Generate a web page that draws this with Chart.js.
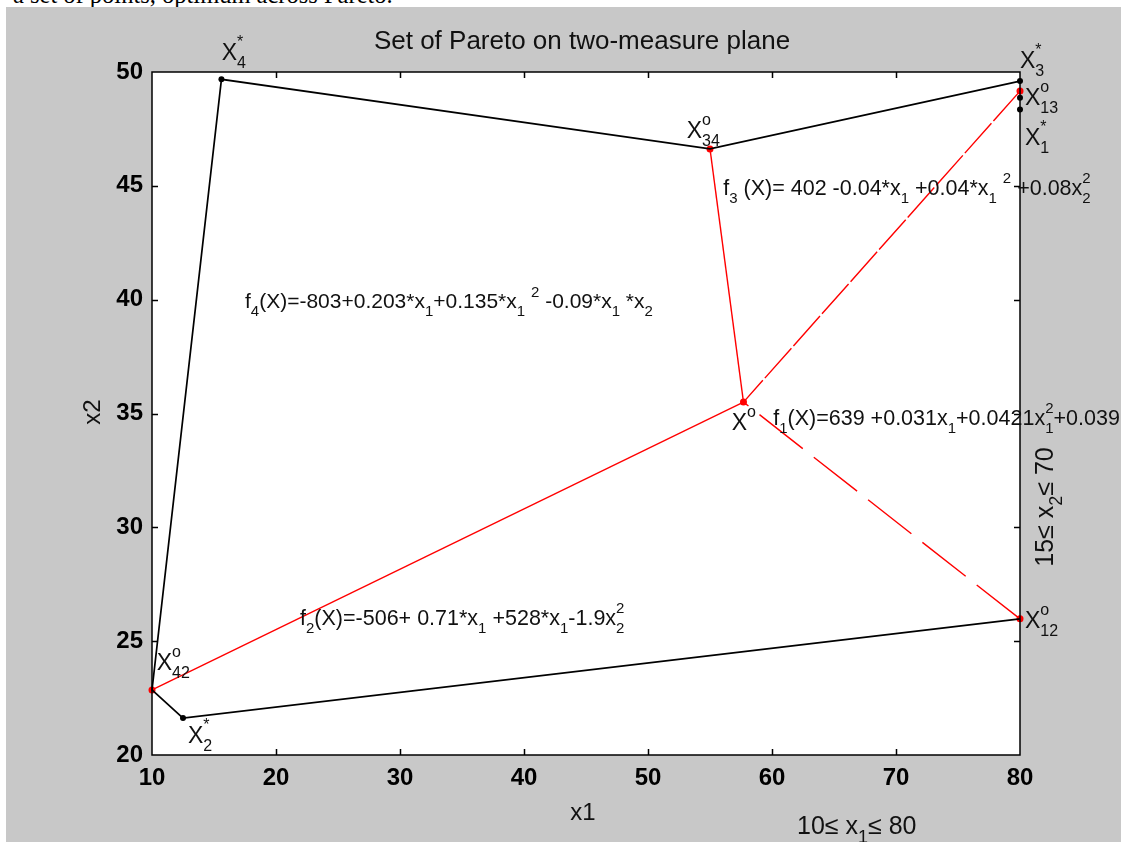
<!DOCTYPE html>
<html>
<head>
<meta charset="utf-8">
<script src="https://cdn.jsdelivr.net/npm/chart.js@4.4.0/dist/chart.umd.min.js"></script>
<style>
  body { margin: 0; background: #fff; width: 1121px; height: 842px; overflow: hidden; position: relative; }
  #cap { position: absolute; left: 13px; top: -17px; font: 24.5px "Liberation Serif", serif; line-height: 24px; white-space: nowrap; }
  #wrap { position: absolute; left: 6px; top: 7px; width: 1115px; height: 835px; background: #c8c8c8; }
</style>
</head>
<body>
<div id="cap">a set of points, optimum across Pareto.</div>
<div id="wrap"><canvas id="c" width="1115" height="835"></canvas></div>
<script>
// black boundary: X12o -> X2* -> X42o -> X4* -> X34o -> X3*
const blackX1 = [80, 12.5, 10, 15.6, 55.0, 80];
const blackX2 = [25.98, 21.62, 22.86, 49.68, 46.62, 49.6];

// black markers: X2*, X4*, X3*, (edge), X1*
const dotX1 = [12.5, 15.6, 80, 80, 80];
const dotX2 = [21.62, 49.68, 49.6, 48.87, 48.35];

// red compromise lines, all from Xo
const xoX1 = 57.7, xoX2 = 35.5;
const redEndX1 = [55.0, 80, 10, 80];        // X34o, X13o, X42o, X12o
const redEndX2 = [46.62, 49.16, 22.86, 25.98];

const x1Ticks = [10, 20, 30, 40, 50, 60, 70, 80];
const x2Ticks = [20, 25, 30, 35, 40, 45, 50];

const pts = (xs, ys) => xs.map((x, i) => ({ x: x, y: ys[i] }));
const seg = (i) => [{ x: redEndX1[i], y: redEndX2[i] }, { x: xoX1, y: xoX2 }];

const RED = "#ff0000";
const FONT = "'Liberation Sans', Arial, sans-serif";

// text labels placed in data coordinates (x1, x2); tex-like _ and ^ for scripts
const notes = [
	{ x: 15.62, y: 50.53, s: "X_4^*", size: 23 },
	{ x: 53.12, y: 47.10, s: "X^o_{34}", size: 23 },
	{ x: 80.0, y: 50.18, s: "X_3^*", size: 23 },
	{ x: 80.4, y: 48.55, s: "X^o_{13}", size: 23 },
	{ x: 80.4, y: 46.79, s: "X_1^*", size: 23 },
	{ x: 56.75, y: 34.28, s: "X^o", size: 23 },
	{ x: 10.38, y: 23.74, s: "X^o_{42}", size: 23 },
	{ x: 12.9, y: 20.53, s: "X_2^*", size: 23 },
	{ x: 80.4, y: 25.58, s: "X^o_{12}", size: 23 },
	{ x: 56.07, y: 44.6, s: "f_3 (X)= 402 -0.04*x_1 +0.04*x_1 ^2 +0.08x_2^2", size: 21.5 },
	{ x: 17.5, y: 39.62, s: "f_4(X)=-803+0.203*x_1+0.135*x_1 ^2 -0.09*x_1 *x_2", size: 21 },
	{ x: 60.1, y: 34.5, s: "f_1(X)=639 +0.031x_1+0.0421x_1^2+0.039", size: 21.5 },
	{ x: 21.94, y: 25.71, s: "f_2(X)=-506+ 0.71*x_1 +528*x_1-1.9x_2^2", size: 21.5 },
];

function parseTex(s) {
	const out = [];
	let i = 0;
	const grab = () => {
		if (s[i] === "{") { const j = s.indexOf("}", i); const g = s.slice(i + 1, j); i = j + 1; return g; }
		return s[i++];
	};
	while (i < s.length) {
		const c = s[i];
		if (c === "_" || c === "^") {
			i++;
			const key = c === "_" ? "sub" : "sup";
			const g = grab();
			let last = out[out.length - 1];
			if (!last || last.type !== "script" || last[key] !== undefined) { last = { type: "script" }; out.push(last); }
			last[key] = g;
		} else {
			const last = out[out.length - 1];
			if (last && last.type === "text") last.t += c; else out.push({ type: "text", t: c });
			i++;
		}
	}
	return out;
}

function richWidth(ctx, s, size) {
	const small = Math.round(size * 0.7);
	let w = 0;
	for (const p of parseTex(s)) {
		if (p.type === "text") { ctx.font = size + "px " + FONT; w += ctx.measureText(p.t).width; }
		else {
			ctx.font = small + "px " + FONT;
			w += Math.max(p.sub ? ctx.measureText(p.sub).width : 0, p.sup ? ctx.measureText(p.sup).width : 0);
		}
	}
	return w;
}

function drawRich(ctx, x, y, s, size) {
	const small = Math.round(size * 0.7);
	ctx.textAlign = "left";
	ctx.textBaseline = "alphabetic";
	for (const p of parseTex(s)) {
		if (p.type === "text") {
			ctx.font = size + "px " + FONT;
			ctx.fillText(p.t, x, y);
			x += ctx.measureText(p.t).width;
		} else {
			ctx.font = small + "px " + FONT;
			let w = 0;
			if (p.sub) { ctx.fillText(p.sub, x, y + size * 0.36); w = ctx.measureText(p.sub).width; }
			if (p.sup) { ctx.fillText(p.sup, x, y - size * 0.56); w = Math.max(w, ctx.measureText(p.sup).width); }
			x += w;
		}
	}
}

const matlabFrame = {
	id: "matlabFrame",
	beforeDraw(chart) {
		const { ctx, chartArea: a } = chart;
		ctx.save();
		ctx.fillStyle = "#fff";
		ctx.fillRect(a.left, a.top, a.right - a.left, a.bottom - a.top);
		ctx.restore();
	},
	afterDraw(chart) {
		const { ctx, chartArea: a } = chart;
		const xs = chart.scales.x, ys = chart.scales.y;
		ctx.save();
		ctx.strokeStyle = "#000";
		ctx.lineWidth = 1.5;
		ctx.strokeRect(a.left, a.top, a.right - a.left, a.bottom - a.top);
		// inward ticks on all four sides
		ctx.beginPath();
		const t = 6;
		x1Ticks.slice(1, -1).forEach((v) => {
			const px = Math.round(xs.getPixelForValue(v)) + 0.5;
			ctx.moveTo(px, a.bottom); ctx.lineTo(px, a.bottom - t);
			ctx.moveTo(px, a.top); ctx.lineTo(px, a.top + t);
		});
		x2Ticks.slice(1, -1).forEach((v) => {
			const py = Math.round(ys.getPixelForValue(v)) + 0.5;
			ctx.moveTo(a.left, py); ctx.lineTo(a.left + t, py);
			ctx.moveTo(a.right, py); ctx.lineTo(a.right - t, py);
		});
		ctx.stroke();

		ctx.fillStyle = "#111";
		notes.forEach((n) => {
			drawRich(ctx, xs.getPixelForValue(n.x), ys.getPixelForValue(n.y), n.s, n.size);
		});

		// title and axis labels
		const cx = (a.left + a.right) / 2;
		ctx.font = "26px " + FONT;
		ctx.textAlign = "center";
		ctx.textBaseline = "middle";
		ctx.fillText("Set of Pareto on two-measure plane", cx - 4, 35);
		ctx.font = "24px " + FONT;
		ctx.fillText("x1", cx - 3, 806);
		ctx.save();
		ctx.translate(87, 405);
		ctx.rotate(-Math.PI / 2);
		ctx.fillText("x2", 0, 0);
		ctx.restore();

		drawRich(ctx, 791, 827, "10\u2264 x_1\u2264 80", 25);
		ctx.save();
		ctx.translate(1047, 500);
		ctx.rotate(-Math.PI / 2);
		const w = richWidth(ctx, "15\u2264 x_2\u2264 70", 25);
		drawRich(ctx, -w / 2, 0, "15\u2264 x_2\u2264 70", 25);
		ctx.restore();
		ctx.restore();
	},
};

const lineDs = (data, color, dash, width) => ({
	data: data, showLine: true, borderColor: color, borderWidth: width || 1.4,
	borderDash: dash || [], pointRadius: 0, clip: false,
});

new Chart(document.getElementById("c"), {
	type: "scatter",
	data: {
		datasets: [
			lineDs(pts(blackX1, blackX2), "#000", [], 1.7),
			lineDs(seg(0), RED),
			lineDs(seg(1), RED, [40, 3]),
			lineDs(seg(2), RED),
			lineDs(seg(3), RED, [55, 14]),
			{ data: pts(dotX1, dotX2), pointRadius: 3, pointBackgroundColor: "#000", pointBorderColor: "#000", borderWidth: 0, clip: false },
			{ data: pts(redEndX1.concat([xoX1]), redEndX2.concat([xoX2])), pointRadius: 3.5, pointBackgroundColor: RED, pointBorderColor: RED, borderWidth: 0, clip: false },
		],
	},
	options: {
		responsive: false,
		animation: false,
		layout: { padding: { left: 0, right: 101, top: 65, bottom: 0 } },
		plugins: { legend: { display: false }, tooltip: { enabled: false } },
		scales: {
			x: {
				type: "linear", min: 10, max: 80,
				afterFit: (s) => { s.height = 87; },
				afterBuildTicks: (s) => { s.ticks = x1Ticks.map((v) => ({ value: v })); },
				grid: { display: false, drawTicks: false },
				border: { display: false },
				ticks: { color: "#000", padding: 9, font: { family: FONT, size: 24, weight: "bold" } },
			},
			y: {
				type: "linear", min: 20, max: 50,
				afterFit: (s) => { s.width = 146; },
				afterBuildTicks: (s) => { s.ticks = x2Ticks.map((v) => ({ value: v })); },
				grid: { display: false, drawTicks: false },
				border: { display: false },
				ticks: { color: "#000", padding: 9, font: { family: FONT, size: 24, weight: "bold" } },
			},
		},
	},
	plugins: [matlabFrame],
});
</script>
</body>
</html>
